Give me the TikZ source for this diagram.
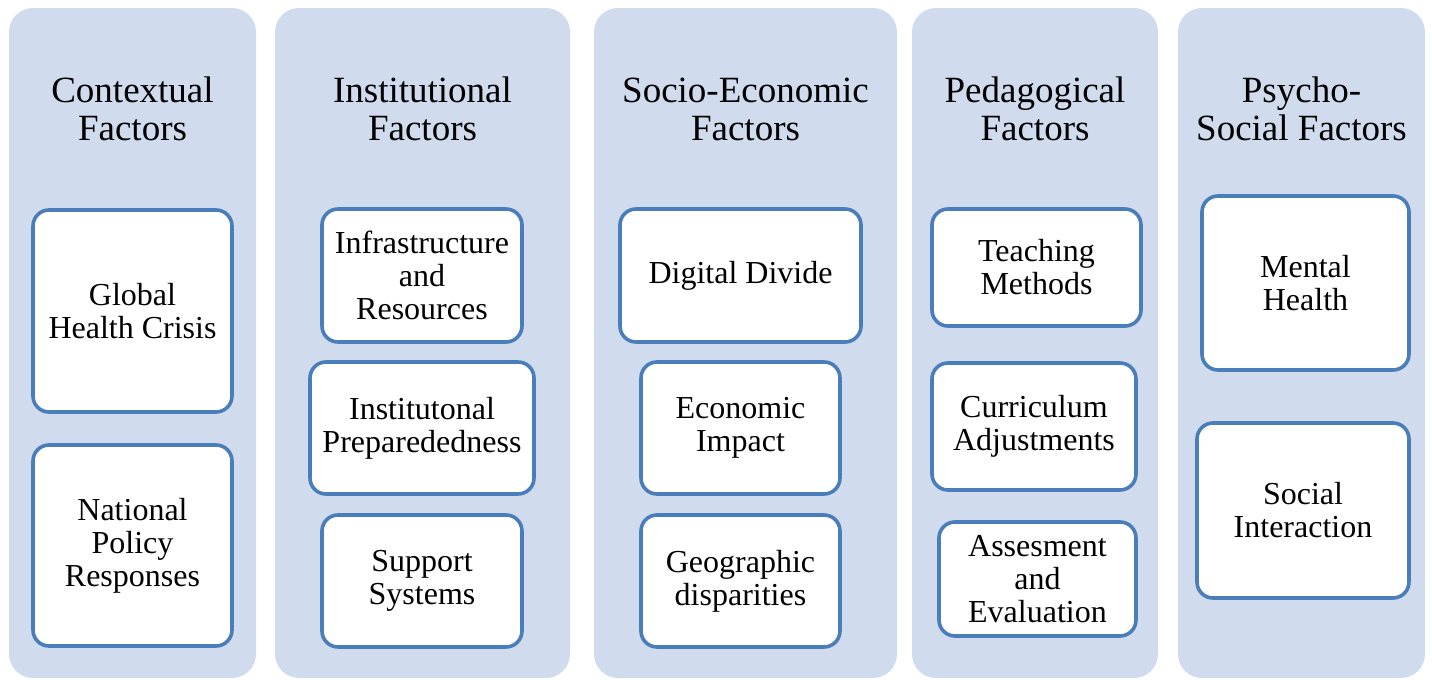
\documentclass[tikz,border=0pt]{standalone}
\usepackage{fontspec}
\setmainfont{Liberation Serif}
\definecolor{panelfill}{RGB}{208,220,238}
\definecolor{boxline}{RGB}{74,126,187}
\begin{document}
\begin{tikzpicture}[x=0.5pt,y=-0.5pt,
  panel/.style={fill=panelfill,draw=none,rounded corners=12pt,inner sep=0pt},
  title/.style={align=center,font=\fontsize{18.5}{19}\selectfont,inner sep=0pt},
  ibox/.style={draw=boxline,line width=1.8pt,fill=white,rounded corners=8pt,align=center,
    font=\fontsize{16}{16.5}\selectfont,inner sep=0pt}]
\useasboundingbox (0,0) rectangle (1432,680);
% panels
\node[panel,minimum width=247*0.5pt,minimum height=670*0.5pt] (p1) at (132.5,343) {};
\node[panel,minimum width=295*0.5pt,minimum height=670*0.5pt] (p2) at (422.5,343) {};
\node[panel,minimum width=303*0.5pt,minimum height=670*0.5pt] (p3) at (745.5,343) {};
\node[panel,minimum width=246*0.5pt,minimum height=670*0.5pt] (p4) at (1035,343) {};
\node[panel,minimum width=247*0.5pt,minimum height=670*0.5pt] (p5) at (1301.5,343) {};
% titles
\node[title] (t1) at (132.5,109) {Contextual\\Factors};
\node[title] (t2) at (422.5,109) {Institutional\\Factors};
\node[title] (t3) at (745.5,109) {Socio-Economic\\Factors};
\node[title] (t4) at (1035,109) {Pedagogical\\Factors};
\node[title] (t5) at (1301.5,109) {Psycho-\\Social Factors};
% column 1
\node[ibox,minimum width=199*0.5pt,minimum height=202*0.5pt] (c1a) at (132.5,311) {Global\\Health Crisis};
\node[ibox,minimum width=199*0.5pt,minimum height=201*0.5pt] (c1b) at (132.5,545.5) {National\\Policy\\Responses};
% column 2
\node[ibox,minimum width=200*0.5pt,minimum height=133*0.5pt] (c2a) at (422,275.5) {Infrastructure\\and\\Resources};
\node[ibox,minimum width=224*0.5pt,minimum height=132*0.5pt] (c2b) at (422,428) {Institutonal\\Preparededness};
\node[ibox,minimum width=200*0.5pt,minimum height=132*0.5pt] (c2c) at (422,581) {Support\\Systems};
% column 3
\node[ibox,minimum width=241*0.5pt,minimum height=133*0.5pt] (c3a) at (740.5,275.5) {Digital Divide};
\node[ibox,minimum width=199*0.5pt,minimum height=132*0.5pt] (c3b) at (740.5,428) {Economic\\Impact};
\node[ibox,minimum width=199*0.5pt,minimum height=132*0.5pt] (c3c) at (740.5,581) {Geographic\\disparities};
% column 4
\node[ibox,minimum width=209*0.5pt,minimum height=117*0.5pt] (c4a) at (1036.5,267.5) {Teaching\\Methods};
\node[ibox,minimum width=204*0.5pt,minimum height=127*0.5pt] (c4b) at (1034,426.5) {Curriculum\\Adjustments};
\node[ibox,minimum width=197*0.5pt,minimum height=114*0.5pt] (c4c) at (1037.5,579) {Assesment\\and\\Evaluation};
% column 5
\node[ibox,minimum width=207*0.5pt,minimum height=174*0.5pt] (c5a) at (1305.5,283) {Mental\\Health};
\node[ibox,minimum width=212*0.5pt,minimum height=175*0.5pt] (c5b) at (1303,510.5) {Social\\Interaction};
\end{tikzpicture}
\end{document}
